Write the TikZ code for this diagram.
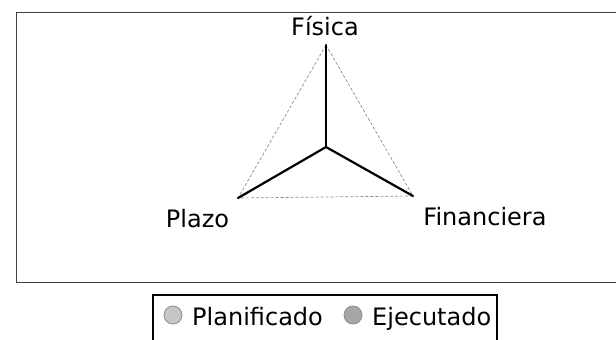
\documentclass[tikz,border=0pt]{standalone}
\usepackage{fontspec}
\setmainfont{DejaVu Sans}
\begin{document}
\begin{tikzpicture}[x=1bp,y=-1bp,
  lbl/.style={font=\fontsize{24bp}{28bp}\selectfont, inner sep=0pt, anchor=base},
  plan/.style={draw=gray!90, densely dashed, line width=0.7bp},
  ejec/.style={draw=black, line width=2.2bp, line cap=round},
  frame/.style={draw=black!75, line width=0.8bp},
  legbox/.style={draw=black, line width=1.5bp},
  dot/.style={circle, minimum size=18bp, inner sep=0pt, draw=gray!90, line width=0.8bp}]
\useasboundingbox (0,0) rectangle (616,339);
\begin{scope}
\clip (0,0) rectangle (616,339);
\draw[frame] (16,12) rectangle (630,282);
\draw[legbox] (153,350) -- (153,295) -- (497,295) -- (497,350);
\end{scope}
\coordinate (t) at (326,45);
\coordinate (l) at (238,198);
\coordinate (r) at (413,196);
\coordinate (c) at (326,147);
\draw[plan] (t) -- (l) -- (r) -- cycle;
\draw[ejec] (c) -- (t);
\draw[ejec] (c) -- (l);
\draw[ejec] (c) -- (r);
\node[lbl] (fis) at (325,35) {Física};
\node[lbl] (pla) at (197.5,227) {Plazo};
\node[lbl] (fin) at (485,225) {Financiera};
\node[dot, fill=gray!45] (d1) at (173,315) {};
\node[dot, fill=gray!70] (d2) at (353,315) {};
\node[lbl, anchor=base west] (t1) at (192,325) {Planificado};
\node[lbl, anchor=base west] (t2) at (372,325) {Ejecutado};
\end{tikzpicture}
\end{document}
